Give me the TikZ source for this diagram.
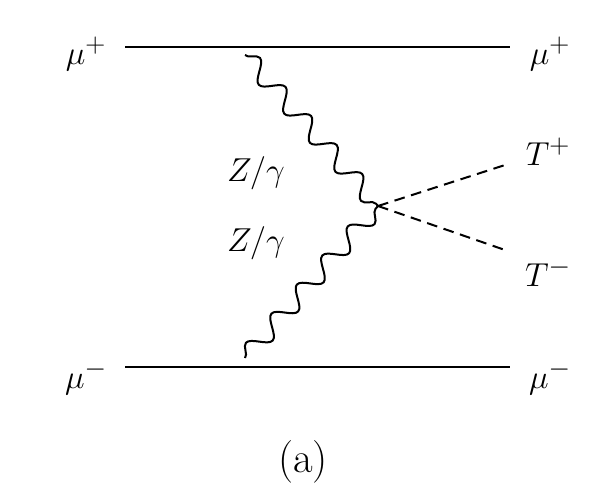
\documentclass[tikz,border=0pt]{standalone}
\usetikzlibrary{decorations.pathmorphing}
\tikzset{
  fermion/.style={draw=black,line width=1.8pt},
  boson/.style={draw=black,line width=1.5pt,decorate,decoration={snake,amplitude=7pt,segment length=29pt}},
  scalar/.style={draw=black,line width=1.5pt,dash pattern=on 8pt off 5pt},
  lbl/.style={font=\fontsize{32}{38}\selectfont,inner sep=0pt}
}
\begin{document}
\begin{tikzpicture}[x=0.75pt,y=-0.75pt]
\useasboundingbox (0,0) rectangle (606,497);
\coordinate (0) at (125,47);
\coordinate (1) at (510,47);
\coordinate (2) at (125,367);
\coordinate (3) at (510,367);
\coordinate (4) at (245,55);
\coordinate (5) at (245,358);
\coordinate (6) at (378,206);
\coordinate (7) at (505,165);
\coordinate (8) at (505,250);

\node[lbl] (a) at (86,54) {$\mu^+$};
\node[lbl] (b) at (550,54) {$\mu^+$};
\node[lbl] (c) at (86,378) {$\mu^-$};
\node[lbl] (d) at (550,378) {$\mu^-$};
\node[lbl] (e) at (548,152) {$T^+$};
\node[lbl] (f) at (548,272) {$T^-$};
\node[lbl] (g) at (256,173) {$Z/\gamma$};
\node[lbl] (h) at (256,243) {$Z/\gamma$};
\node[lbl] (i) at (303,462) {(a)};

\path [fermion] (0) -- (1);
\path [fermion] (2) -- (3);
\path [boson] (4) -- (6);
\path [boson] (5) -- (6);
\path [scalar] (6) -- (7);
\path [scalar] (6) -- (8);
\end{tikzpicture}
\end{document}
